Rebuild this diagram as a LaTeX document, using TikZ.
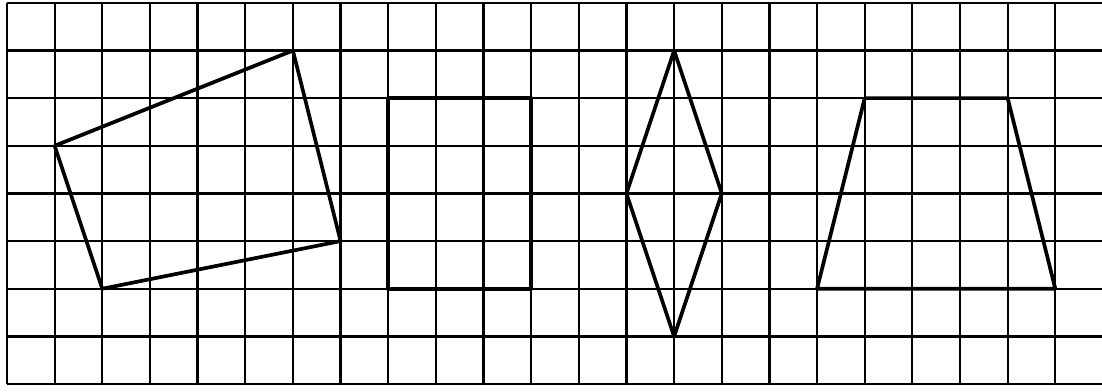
\documentclass[tikz,border=0pt]{standalone}
\begin{document}
\begin{tikzpicture}[x=1cm,y=1cm,
  gridline/.style={line width=1.35pt,black},
  figline/.style={line width=2.2pt,black,line join=round}]
\useasboundingbox (-0.147,-0.147) rectangle (22.98,8.06);
\fill[white] (-0.147,-0.147) rectangle (22.98,8.06);
% grid
\foreach \i in {0,...,23} \draw[gridline] (\i,0) -- (\i,8);
\foreach \j in {0,...,8} \draw[gridline] (0,\j) -- (23,\j);
% quadrilateral
\coordinate (qa) at (1,5);
\coordinate (qb) at (6,7);
\coordinate (qc) at (7,3);
\coordinate (qd) at (2,2);
\draw[figline] (qa) -- (qb) -- (qc) -- (qd) -- cycle;
% rectangle
\coordinate (ra) at (8,6);
\coordinate (rb) at (11,6);
\coordinate (rc) at (11,2);
\coordinate (rd) at (8,2);
\draw[figline] (ra) -- (rb) -- (rc) -- (rd) -- cycle;
% rhombus
\coordinate (ha) at (14,7);
\coordinate (hb) at (15,4);
\coordinate (hc) at (14,1);
\coordinate (hd) at (13,4);
\draw[figline] (ha) -- (hb) -- (hc) -- (hd) -- cycle;
% trapezoid
\coordinate (ta) at (18,6);
\coordinate (tb) at (21,6);
\coordinate (tc) at (22,2);
\coordinate (td) at (17,2);
\draw[figline] (ta) -- (tb) -- (tc) -- (td) -- cycle;
\end{tikzpicture}
\end{document}
